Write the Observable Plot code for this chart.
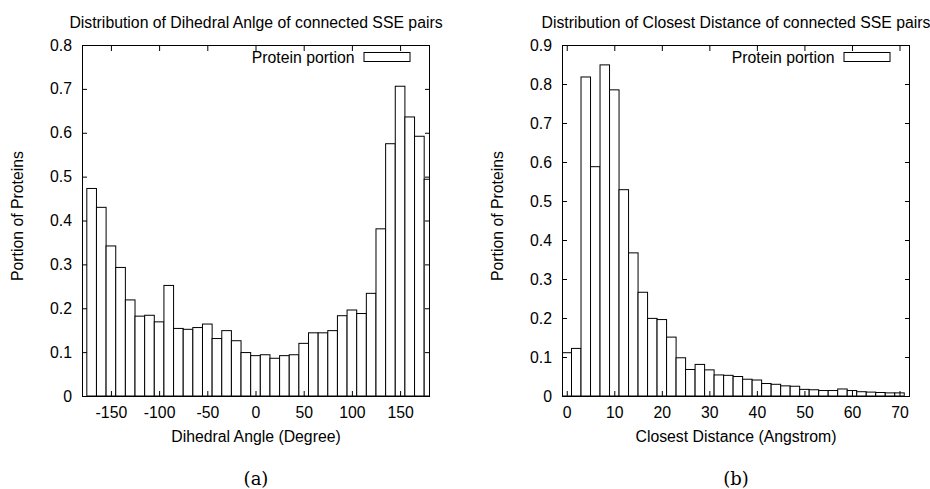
<!DOCTYPE html>
<html>
<head>
<meta charset="utf-8">
<script src="https://cdn.jsdelivr.net/npm/d3@7"></script>
<script src="https://cdn.jsdelivr.net/npm/@observablehq/plot@0.6"></script>
<style>
  html, body { margin: 0; padding: 0; background: white; }
  #wrap { display: flex; width: 930px; height: 489px; }
</style>
</head>
<body>
<div id="wrap"></div>
<script>
// ---- data (a): dihedral angle ----
const angleBins = [-170,-160,-150,-140,-130,-120,-110,-100,-90,-80,-70,-60,-50,-40,-30,-20,-10,0,10,20,30,40,50,60,70,80,90,100,110,120,130,140,150,160,170,180];
const anglePortions = [0.473,0.430,0.342,0.293,0.219,0.182,0.184,0.169,0.252,0.154,0.152,0.156,0.164,0.131,0.149,0.126,0.099,0.092,0.094,0.086,0.092,0.094,0.120,0.144,0.144,0.149,0.183,0.196,0.188,0.234,0.381,0.575,0.706,0.636,0.592,0.494];
const angleTicksX = [-150,-100,-50,0,50,100,150];
const angleTicksY = [0,0.1,0.2,0.3,0.4,0.5,0.6,0.7,0.8];

// ---- data (b): closest distance ----
const distanceBins = [0,2,4,6,8,10,12,14,16,18,20,22,24,26,28,30,32,34,36,38,40,42,44,46,48,50,52,54,56,58,60,62,64,66,68,70];
const distancePortions = [0.111,0.122,0.818,0.588,0.849,0.785,0.529,0.367,0.266,0.199,0.196,0.151,0.098,0.068,0.081,0.067,0.054,0.053,0.050,0.043,0.041,0.032,0.030,0.026,0.025,0.017,0.016,0.014,0.014,0.018,0.014,0.011,0.010,0.009,0.008,0.008];
const distTicksX = [0,10,20,30,40,50,60,70];
const distTicksY = [0,0.1,0.2,0.3,0.4,0.5,0.6,0.7,0.8,0.9];

const legendLabel = "Protein portion";
const yLabel = "Portion of Proteins";

const FONT = "'Liberation Sans', Arial, Helvetica, sans-serif";
const FS = 15.8;

function panel(o) {
  const table = o.bins.map((b, i) => ({b, v: o.values[i]}));
  const hw = o.binWidth / 2;
  const legendBox = (index, scales, values, dim) => {
    const r = dim.width - dim.marginRight;
    return d3.create("svg:rect")
      .attr("x", r - 65).attr("y", dim.marginTop + 7.5)
      .attr("width", 46).attr("height", 9)
      .attr("fill", "white").attr("stroke", "black").attr("stroke-width", 1)
      .node();
  };
  return Plot.plot({
    width: 465,
    height: 489,
    marginLeft: o.marginLeft,
    marginRight: o.marginRight,
    marginTop: 45,
    marginBottom: 93,
    style: {fontFamily: FONT, fontSize: FS + "px", background: "white", color: "black", overflow: "visible"},
    x: {domain: o.xDomain},
    y: {domain: o.yDomain},
    marks: [
      Plot.rectY(table, {x1: d => d.b - hw, x2: d => d.b + hw, y: "v", fill: "white", stroke: "black", strokeWidth: 1, clip: true}),
      // tick labels
      Plot.axisX({ticks: o.xTicks, tickSize: 0, tickPadding: 10, tickFormat: d => String(d), label: null, fontSize: FS}),
      Plot.axisY({ticks: o.yTicks, tickSize: 0, tickPadding: 10.5, tickFormat: d => String(d), label: null, fontSize: FS}),
      // inward mirrored ticks
      Plot.axisX({anchor: "bottom", ticks: o.xTicks, tickSize: 5, dy: -5, tickFormat: () => "", label: null}),
      Plot.axisX({anchor: "top", ticks: o.xTicks, tickSize: 5, dy: 5, tickFormat: () => "", label: null}),
      Plot.axisY({anchor: "left", ticks: o.yTicks, tickSize: 5, dx: 5, tickFormat: () => "", label: null}),
      Plot.axisY({anchor: "right", ticks: o.yTicks, tickSize: 5, dx: -5, tickFormat: () => "", label: null}),
      Plot.frame({stroke: "black", strokeWidth: 1}),
      // title
      Plot.text([o.title], {text: d => d, frameAnchor: "top", dy: -23, textAnchor: "middle", lineAnchor: "middle", fontSize: FS, fill: "black"}),
      // axis labels
      Plot.text([o.xLabel], {text: d => d, frameAnchor: "bottom", dy: 40, textAnchor: "middle", lineAnchor: "middle", fontSize: FS, fill: "black"}),
      Plot.text([yLabel], {text: d => d, frameAnchor: "left", dx: -65, dy: -5, rotate: -90, textAnchor: "middle", lineAnchor: "middle", fontSize: FS, fill: "black"}),
      // legend
      Plot.text([legendLabel], {text: d => d, frameAnchor: "top-right", dx: -75, dy: 12, textAnchor: "end", lineAnchor: "middle", fontSize: FS, fill: "black"}),
      legendBox,
      // caption
      Plot.text([o.caption], {text: d => d, frameAnchor: "bottom", dy: 83, textAnchor: "middle", lineAnchor: "middle", fontSize: 18, fontFamily: "'DejaVu Serif', serif", fill: "black"})
    ]
  });
}

const wrap = document.getElementById("wrap");
wrap.appendChild(panel({
  bins: angleBins, values: anglePortions, binWidth: 10,
  xDomain: [-180, 180], yDomain: [0, 0.8],
  xTicks: angleTicksX, yTicks: angleTicksY,
  title: "Distribution of Dihedral Anlge of connected SSE pairs",
  xLabel: "Dihedral Angle (Degree)", caption: "(a)",
  marginLeft: 82, marginRight: 36
}));
wrap.appendChild(panel({
  bins: distanceBins, values: distancePortions, binWidth: 2,
  xDomain: [-1, 72], yDomain: [0, 0.9],
  xTicks: distTicksX, yTicks: distTicksY,
  title: "Distribution of Closest Distance of connected SSE pairs",
  xLabel: "Closest Distance (Angstrom)", caption: "(b)",
  marginLeft: 97, marginRight: 21
}));
</script>
</body>
</html>
